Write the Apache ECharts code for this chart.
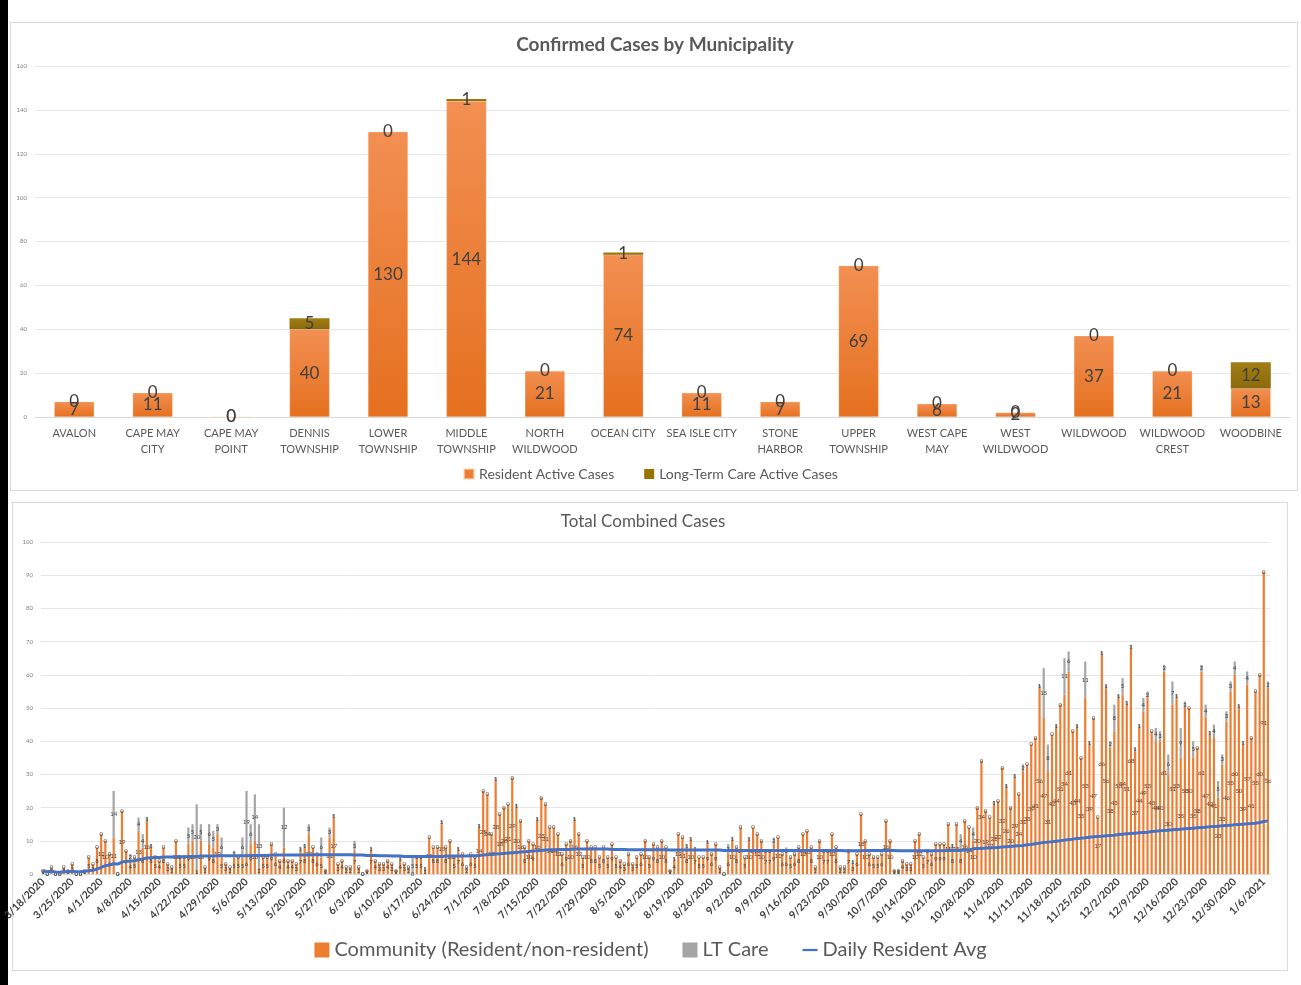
<!DOCTYPE html>
<html>
<head>
<meta charset="utf-8">
<script src="https://cdn.jsdelivr.net/npm/echarts@6/dist/echarts.min.js"></script>
<style>
html,body{margin:0;padding:0;background:#fff;}
#wrap{position:relative;width:1301px;height:985px;overflow:hidden;}
.panel{position:absolute;border:1px solid #d9d9d9;box-sizing:border-box;}
#chart{position:absolute;left:0;top:0;width:1301px;height:985px;}
</style>
</head>
<body>
<div id="wrap">
  <div style="position:absolute;left:0;top:0;width:8px;height:985px;background:#000"></div>
  <div class="panel" style="left:10px;top:22px;width:1288px;height:469px"></div>
  <div class="panel" style="left:12px;top:502px;width:1276px;height:469px"></div>
  <div id="chart"></div>
</div>
<script>
// ---------- Top chart data ----------
const municipalities = ['AVALON','CAPE MAY\nCITY','CAPE MAY\nPOINT','DENNIS\nTOWNSHIP','LOWER\nTOWNSHIP','MIDDLE\nTOWNSHIP','NORTH\nWILDWOOD','OCEAN CITY','SEA ISLE CITY','STONE\nHARBOR','UPPER\nTOWNSHIP','WEST CAPE\nMAY','WEST\nWILDWOOD','WILDWOOD','WILDWOOD\nCREST','WOODBINE'];
const residentActive = [7,11,0,40,130,144,21,74,11,7,69,6,2,37,21,13];
const ltcActive = [0,0,0,5,0,1,0,1,0,0,0,0,0,0,0,12];
const topYTicks = {min:0, max:160, interval:20};

// ---------- Bottom chart data (daily, 3/18/2020 .. 1/7/2021) ----------
const startDate = [2020, 2, 18];
const dayCount = 296;
const community = [
 1,0,2,0,0,2,1,  3,0,0,1,5,3,8,  12,10,6,11,0,19,7,  4,5,13,8,16,8,5,
 4,8,3,2,10,5,5,  9,10,1,10,2,9,8,  12,5,3,2,5,5,5,  6,9,10,2,5,5,9,
 6,4,8,4,4,3,7,  8,12,8,6,5,1,11,  17,3,4,2,2,7,2,  0,1,7,4,3,3,4,
 3,1,4,3,2,0,5,  5,1,11,8,8,15,8,  10,5,7,6,2,6,5,  14,25,24,12,28,18,20,
 21,29,20,16,8,10,9,  16,23,21,14,14,12,6,  9,10,16,12,5,10,8,  8,5,8,5,9,5,4,
 3,6,3,5,6,10,5,  9,8,10,8,1,4,12,  11,8,10,7,5,5,9,  6,9,2,0,6,10,8,
 14,5,10,14,12,10,7,  7,9,11,6,6,5,6,  8,12,13,8,2,10,7,  7,12,8,2,2,7,3,
 6,18,10,6,5,5,6,  16,10,1,1,4,3,3,  10,12,5,7,6,9,9,  9,15,8,15,8,16,14,
 10,20,34,19,17,21,22,  32,26,20,29,24,31,33,  39,41,56,47,31,42,44,  51,54,61,43,44,35,53,
 39,47,17,66,56,38,43,  53,54,51,68,37,44,49,  53,43,40,40,61,30,51,  53,35,50,50,35,38,61,
 47,42,41,23,33,46,55,  60,50,39,57,41,55,60,  91,56
];
const ltCare = [
 0,0,0,0,0,0,0,  0,0,0,0,0,0,0,  0,0,0,14,0,0,0,  2,0,4,4,1,1,0,
 0,0,0,0,0,0,0,  5,5,20,5,0,6,5,  3,6,0,0,2,0,6,  19,6,14,13,0,0,0,
 0,0,12,0,0,0,1,  1,3,0,0,6,0,3,  1,0,0,0,0,3,0,  0,0,1,0,0,0,0,
 0,0,1,0,0,5,0,  0,1,0,0,0,1,0,  0,0,1,0,0,0,0,  1,0,0,0,1,0,0,
 0,0,1,0,0,0,0,  1,0,0,0,0,0,0,  0,0,1,0,0,0,0,  0,0,0,0,0,0,0,
 0,0,0,0,0,0,0,  0,0,0,0,0,1,0,  0,1,1,1,0,0,1,  0,0,0,0,3,1,0,
 0,0,1,0,0,0,0,  0,2,0,0,2,0,0,  0,0,0,0,0,0,0,  0,0,0,0,0,0,1,
 0,0,0,0,0,0,0,  0,0,0,0,0,0,0,  0,0,0,0,0,0,0,  0,0,1,0,4,0,0,
 4,0,0,0,0,1,0,  0,1,0,1,0,2,0,  0,0,1,15,8,0,1,  0,11,6,0,1,0,11,
 1,0,0,1,1,2,8,  1,5,1,1,1,1,4,  2,0,4,3,2,6,7,  1,9,2,0,5,0,2,
 4,1,4,5,3,3,3,  4,1,1,4,0,0,0,  0,2
];
const dailyResidentAvg = [
 1.0,0.7,0.8,0.6,0.5,0.7,0.7,  0.8,0.7,0.7,0.8,1.0,1.1,1.5,  2.0,2.5,2.7,3.1,3.0,3.6,3.8,  3.9,4.0,4.3,4.5,4.8,4.9,5.0,
 5.0,5.1,5.1,5.1,5.2,5.2,5.2,  5.3,5.3,5.3,5.4,5.4,5.4,5.4,  5.5,5.5,5.5,5.5,5.5,5.5,5.5,  5.5,5.6,5.6,5.6,5.6,5.6,5.7,
 5.7,5.7,5.7,5.7,5.7,5.7,5.7,  5.7,5.7,5.8,5.8,5.8,5.8,5.8,  5.8,5.8,5.8,5.8,5.8,5.7,5.7,  5.7,5.6,5.6,5.6,5.5,5.5,5.5,
 5.4,5.4,5.4,5.3,5.3,5.3,5.3,  5.3,5.3,5.3,5.3,5.3,5.3,5.4,  5.4,5.4,5.4,5.4,5.4,5.5,5.5,  5.6,5.7,5.8,5.9,6.0,6.1,6.2,
 6.3,6.4,6.5,6.6,6.7,6.8,6.9,  7.0,7.1,7.2,7.3,7.3,7.4,7.4,  7.4,7.4,7.5,7.5,7.5,7.5,7.5,  7.5,7.5,7.5,7.5,7.4,7.4,7.4,
 7.4,7.3,7.3,7.3,7.3,7.3,7.3,  7.3,7.3,7.3,7.3,7.2,7.2,7.2,  7.2,7.2,7.2,7.2,7.2,7.2,7.2,  7.2,7.2,7.2,7.1,7.1,7.1,7.1,
 7.1,7.1,7.1,7.1,7.1,7.1,7.1,  7.1,7.1,7.1,7.1,7.1,7.1,7.1,  7.1,7.1,7.1,7.1,7.1,7.1,7.1,  7.1,7.1,7.1,7.1,7.0,7.0,7.0,
 7.0,7.0,7.1,7.1,7.1,7.1,7.1,  7.1,7.1,7.1,7.0,7.0,7.0,7.0,  7.0,7.0,7.0,7.0,7.0,7.0,7.0,  7.0,7.1,7.1,7.1,7.1,7.2,7.2,
 7.6,7.7,7.7,7.8,7.8,7.9,8.0,  8.1,8.2,8.3,8.4,8.5,8.6,8.8,  8.9,9.1,9.3,9.5,9.6,9.7,9.9,  10.0,10.2,10.4,10.5,10.7,10.8,10.9,
 11.1,11.2,11.3,11.4,11.5,11.6,11.7,  11.9,12.0,12.1,12.2,12.3,12.4,12.5,  12.6,12.8,12.9,13.0,13.1,13.2,13.3,  13.4,13.5,13.6,13.7,13.8,13.9,14.0,
 14.1,14.2,14.3,14.4,14.5,14.6,14.7,  14.8,14.9,15.0,15.1,15.2,15.3,15.5,  15.8,16.0
];
const bottomYTicks = {min:0, max:100, interval:10};

// date categories
const dates = [];
for (let i = 0; i < dayCount; i++) {
  const d = new Date(startDate[0], startDate[1], startDate[2] + i);
  dates.push((d.getMonth()+1) + '/' + d.getDate() + '/' + d.getFullYear());
}

const FONT = 'Lato, "Open Sans", sans-serif';
const chart = echarts.init(document.getElementById('chart'), null, {renderer:'canvas'});

const orangeGrad = new echarts.graphic.LinearGradient(0,0,0,1,[{offset:0,color:'#F28F52'},{offset:1,color:'#E5701F'}]);
const oliveGrad = new echarts.graphic.LinearGradient(0,0,0,1,[{offset:0,color:'#A07D14'},{offset:1,color:'#8C6A0C'}]);

chart.setOption({
  animation:false,
  textStyle:{fontFamily:FONT},
  title:[
    {text:'Confirmed Cases by Municipality', left:650, top:30, textAlign:'center',
     textStyle:{fontSize:19, fontWeight:'bold', color:'#595959', fontFamily:FONT}},
    {text:'Total Combined Cases', left:638, top:508, textAlign:'center',
     textStyle:{fontSize:17, fontWeight:'normal', color:'#595959', fontFamily:FONT}}
  ],
  legend:[
    {data:[{name:'Resident Active Cases', itemStyle:{color:'#ED7D31'}},{name:'Long-Term Care Active Cases', itemStyle:{color:'#997300'}}],
     left:'center', top:462, itemWidth:10, itemHeight:10, itemGap:30, icon:'rect',
     textStyle:{fontSize:14, color:'#595959', fontFamily:FONT}},
    {data:[{name:'Community (Resident/non-resident)', icon:'rect'},{name:'LT Care', icon:'rect'},{name:'Daily Resident Avg', icon:'path://M0,0h20v3h-20z'}],
     left:'center', top:935, itemWidth:15, itemHeight:15, itemGap:34,
     textStyle:{fontSize:20, color:'#595959', fontFamily:FONT}}
  ],
  grid:[
    {left:35, top:66, width:1255, height:351},
    {left:40, top:542, width:1230, height:332}
  ],
  xAxis:[
    {type:'category', gridIndex:0, data:municipalities,
     axisLine:{lineStyle:{color:'#d9d9d9'}}, axisTick:{show:false},
     axisLabel:{interval:0, fontSize:11, color:'#595959', lineHeight:16, margin:8, fontFamily:FONT}},
    {type:'category', gridIndex:1, data:dates,
     axisLine:{lineStyle:{color:'#d9d9d9'}},
     axisTick:{interval:6, length:4, lineStyle:{color:'#bfbfbf'}},
     axisLabel:{interval:6, rotate:45, fontSize:10.5, fontWeight:'bold', color:'#404040', margin:6, fontFamily:FONT}}
  ],
  yAxis:[
    {type:'value', gridIndex:0, min:topYTicks.min, max:topYTicks.max, interval:topYTicks.interval,
     axisLine:{show:false}, axisTick:{show:false},
     axisLabel:{fontSize:6, color:'#7f7f7f', margin:8},
     splitLine:{lineStyle:{color:'#e6e6e6'}}},
    {type:'value', gridIndex:1, min:bottomYTicks.min, max:bottomYTicks.max, interval:bottomYTicks.interval,
     axisLine:{show:false}, axisTick:{show:false},
     axisLabel:{fontSize:6, color:'#7f7f7f', margin:8},
     splitLine:{lineStyle:{color:'#e6e6e6'}}}
  ],
  series:[
    {name:'Resident Active Cases', type:'bar', xAxisIndex:0, yAxisIndex:0, stack:'top', barWidth:40,
     data:residentActive, itemStyle:{color:orangeGrad, borderColor:'rgba(255,220,190,0.6)', borderWidth:0.5},
     label:{show:true, position:'inside', fontSize:17, color:'#404040', fontFamily:FONT}},
    {name:'Long-Term Care Active Cases', type:'bar', xAxisIndex:0, yAxisIndex:0, stack:'top', barWidth:40,
     data:ltcActive, itemStyle:{color:oliveGrad},
     label:{show:true, position:'inside', fontSize:17, color:'#404040', fontFamily:FONT}},
    {name:'Community (Resident/non-resident)', type:'bar', xAxisIndex:1, yAxisIndex:1, stack:'bottom', barWidth:2.2,
     data:community, itemStyle:{color:'#ED7D31'},
     label:{show:true, position:'inside', fontSize:6, color:'#404040', fontFamily:FONT}},
    {name:'LT Care', type:'bar', xAxisIndex:1, yAxisIndex:1, stack:'bottom', barWidth:2.2,
     data:ltCare, itemStyle:{color:'#A5A5A5'},
     label:{show:true, position:'inside', fontSize:6, color:'#404040', fontFamily:FONT}},
    {name:'Daily Resident Avg', type:'line', xAxisIndex:1, yAxisIndex:1, data:dailyResidentAvg,
     symbol:'none', z:5, lineStyle:{color:'#4472C4', width:3}, itemStyle:{color:'#4472C4'}}
  ]
});
</script>
</body>
</html>
